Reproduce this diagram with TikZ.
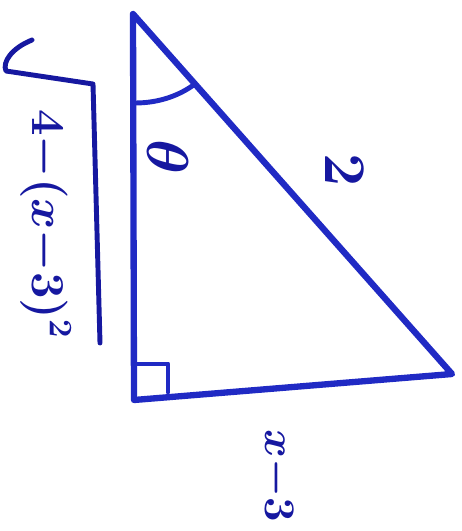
\documentclass[tikz,border=0pt]{standalone}
\usepackage{xcolor}
\usepackage{tikz}
\usetikzlibrary{positioning}

\definecolor{penblue}{RGB}{32,42,196}
\definecolor{inkblue}{RGB}{22,24,160}

\begin{document}
\begin{tikzpicture}[
    x=0.02cm, y=-0.02cm,
    side/.style={draw=penblue, line width=3.6pt, line cap=round, line join=round},
    stroke/.style={draw=penblue, line width=2.8pt, line cap=round, line join=round},
    handtext/.style={text=inkblue, rotate=-90, inner sep=0pt, font=\fontsize{24}{28}\selectfont\boldmath},
    bighandtext/.style={handtext, scale=1.35}
]
    \useasboundingbox (0,0) rectangle (461,531);

    \coordinate (top) at (133,14);
    \coordinate (corner) at (134,400);
    \coordinate (right) at (452,374);

    \draw[side] (top) -- (corner) -- (right) -- cycle;

    % right angle and angle stroke
    \draw[stroke] (136,364) -| (168,392);
    \draw[stroke] (135,103) .. controls (160,103) and (180,95) .. (195,84);

    \node[bighandtext] (theta) at (168,157) {$\theta$};
    \node[bighandtext] (hyp) at (345,170) {$2$};
    \node[handtext] (base) at (277,476) {$x{-}3$};

    % radical over the vertical side
    \node[handtext, scale=1.08] (height) at (46,224) {$4{-}(x{-}3)^2$};
    \draw[stroke, draw=inkblue] (32,40) .. controls (12,48) and (2,62) .. (6,71)
        -- (93,84) -- (100,343);
\end{tikzpicture}
\end{document}
